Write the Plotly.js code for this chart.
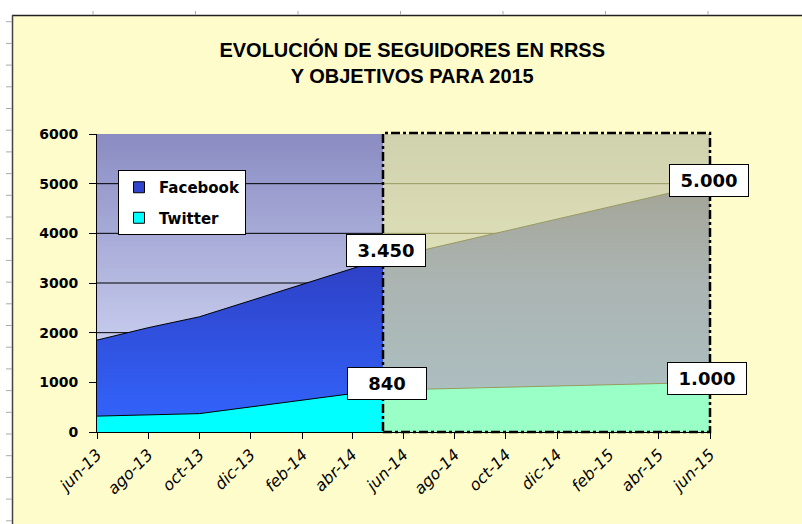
<!DOCTYPE html>
<html>
<head>
<meta charset="utf-8">
<script src="https://cdn.plot.ly/plotly-3.0.1.min.js"></script>
<style>
  body { margin: 0; background: #fff; }
  #plot { width: 802px; height: 524px; }
</style>
</head>
<body>
<div id="plot"></div>
<script>
// Real followers (last reading in may-14)
var realDates = ["2013-06-01", "2013-08-01", "2013-10-01", "2013-12-01", "2014-02-01", "2014-04-01", "2014-05-01"];
var facebookReal = [1850, 2100, 2320, 2650, 2970, 3290, 3450];
var twitterReal = [320, 350, 370, 505, 640, 775, 840];

// Objectives for 2015
var targetDates = ["2014-05-01", "2015-06-01"];
var facebookTarget = [3450, 5000];
var twitterTarget = [840, 1000];

// Axis ticks
var tickDates = ["2013-06-01", "2013-08-01", "2013-10-01", "2013-12-01", "2014-02-01", "2014-04-01",
                 "2014-06-01", "2014-08-01", "2014-10-01", "2014-12-01", "2015-02-01", "2015-04-01", "2015-06-01"];
var tickLabels = ["jun-13", "ago-13", "oct-13", "dic-13", "feb-14", "abr-14",
                  "jun-14", "ago-14", "oct-14", "dic-14", "feb-15", "abr-15", "jun-15"];
var yTicks = [0, 1000, 2000, 3000, 4000, 5000, 6000];

// plot area in pixels: left 97, right 710, top 134, bottom 432
function xp(px) { return (px - 97) / 613; }
function yp(py) { return (432 - py) / 298; }

function hex(c) { return [1, 3, 5].map(i => parseInt(c.substr(i, 2), 16)); }
function mix(a, b, t) {
  var A = hex(a), B = hex(b);
  return "rgb(" + A.map((v, i) => Math.round(v + (B[i] - v) * t)).join(",") + ")";
}
function fmt(v) { return String(v).replace(/\B(?=(\d{3})+(?!\d))/g, "."); }

var yMax = yTicks[yTicks.length - 1];
var shapes = [];

// gradient background, thin overlapping bands
var N = 80;
for (var i = 0; i < N; i++) {
  var t = (i + 0.5) / N;
  shapes.push({type: "rect", layer: "below", xref: "paper", yref: "y",
    x0: 0, x1: 1, y0: yMax * i / N, y1: Math.min(yMax, yMax * (i + 2) / N),
    fillcolor: mix("#E0E7FF", "#8A8CC2", t), line: {width: 0}});
}

// gridlines
yTicks.slice(1, -1).forEach(function (v) {
  shapes.push({type: "line", layer: "below", xref: "paper", yref: "y",
    x0: 0, x1: 1, y0: v, y1: v, line: {color: "#000000", width: 1}});
});

// translucent dash-dot box over the objectives
shapes.push({type: "rect", layer: "above", xref: "paper", yref: "paper",
  x0: xp(383), x1: 1, y0: 0, y1: yp(133),
  fillcolor: "rgba(255,255,160,0.6)",
  line: {color: "#000000", width: 2.5, dash: "dashdot"}});

// spreadsheet frame: white strips, borders and ruler ticks
shapes.push({type: "rect", xref: "paper", yref: "paper", x0: xp(0), x1: xp(802), y0: yp(0), y1: yp(15),
  fillcolor: "#ffffff", line: {width: 0}, layer: "below"});
shapes.push({type: "rect", xref: "paper", yref: "paper", x0: xp(0), x1: xp(12), y0: yp(0), y1: yp(524),
  fillcolor: "#ffffff", line: {width: 0}, layer: "below"});
shapes.push({type: "line", xref: "paper", yref: "paper", x0: xp(12), x1: xp(802), y0: yp(15.5), y1: yp(15.5),
  line: {color: "#222222", width: 1.5}});
shapes.push({type: "line", xref: "paper", yref: "paper", x0: xp(12.5), x1: xp(12.5), y0: yp(15), y1: yp(524),
  line: {color: "#444444", width: 1.5}});
for (var k = 0; k < 7; k++) {
  var rx = 93 + 102.5 * k;
  shapes.push({type: "line", xref: "paper", yref: "paper", x0: xp(rx), x1: xp(rx), y0: yp(11), y1: yp(15),
    line: {color: "#aaaaaa", width: 1}});
}
for (var k = 1; k < 25; k++) {
  var ry = 21.7 * k;
  shapes.push({type: "line", xref: "paper", yref: "paper", x0: xp(6), x1: xp(12), y0: yp(ry), y1: yp(ry),
    line: {color: "#aaaaaa", width: 1}});
}

var fbX = realDates.concat(targetDates.slice(1));
var fbY = facebookReal.concat(facebookTarget.slice(1));
var twX = realDates.concat(targetDates.slice(1));
var twY = twitterReal.concat(twitterTarget.slice(1));

var traces = [
  {
    name: "Facebook", x: fbX, y: fbY, type: "scatter", mode: "lines",
    fill: "tozeroy",
    fillgradient: {type: "vertical", start: 0, stop: Math.max.apply(null, fbY),
                   colorscale: [[0, "#3366FF"], [0.65, "#2E42C8"], [1, "#1A1C86"]]},
    line: {color: "#000000", width: 1}, showlegend: false, hoverinfo: "skip"
  },
  {
    name: "Twitter", x: twX, y: twY, type: "scatter", mode: "lines",
    fill: "tozeroy", fillcolor: "#00FFFF",
    line: {color: "#000000", width: 1}, showlegend: false, hoverinfo: "skip"
  },
  // legend entries with square swatches
  {
    name: "Facebook", x: [null], y: [null], type: "scatter", mode: "markers",
    marker: {symbol: "square", size: 11, color: "#3344CC", line: {color: "#000000", width: 1}},
    legendgroup: "fb"
  },
  {
    name: "Twitter", x: [null], y: [null], type: "scatter", mode: "markers",
    marker: {symbol: "square", size: 11, color: "#00FFFF", line: {color: "#000000", width: 1}},
    legendgroup: "tw"
  }
];

function label(x, y, dx, dy) {
  return {x: x, y: y, xref: "x", yref: "y", text: fmt(y), showarrow: false,
    xshift: dx, yshift: dy, width: 70, height: 23, borderpad: 4,
    bgcolor: "#ffffff", bordercolor: "#000000", borderwidth: 1,
    font: {family: "DejaVu Sans", size: 18, weight: "bold", color: "#000000"}};
}

var annotations = [
  label(realDates[realDates.length - 1], facebookReal[facebookReal.length - 1], 9, 10),
  label(realDates[realDates.length - 1], twitterReal[twitterReal.length - 1], 10, 7),
  label(targetDates[1], facebookTarget[1], -1, 3),
  label(targetDates[1], twitterTarget[1], -3, 4)
];

var layout = {
  width: 802, height: 524,
  margin: {l: 97, r: 92, t: 134, b: 92},
  paper_bgcolor: "#FFFCCC",
  plot_bgcolor: "rgba(0,0,0,0)",
  title: {
    text: "EVOLUCIÓN DE SEGUIDORES EN RRSS<br>Y OBJETIVOS PARA 2015",
    font: {family: "Liberation Sans", size: 20, weight: "bold", color: "#000000"},
    x: 0.514, xanchor: "center", y: 1 - 57 / 524, yanchor: "top"
  },
  xaxis: {
    type: "date", range: [tickDates[0], tickDates[tickDates.length - 1]],
    tickvals: tickDates, ticktext: tickLabels, tickangle: -45,
    ticks: "outside", ticklen: 6, tickcolor: "#000000",
    showgrid: false, zeroline: false, showline: true, linecolor: "#000000", linewidth: 1,
    tickfont: {family: "DejaVu Sans", size: 16, style: "italic", color: "#000000"},
    fixedrange: true
  },
  yaxis: {
    range: [0, yMax], tickvals: yTicks, ticks: "outside", ticklen: 7, tickcolor: "#000000",
    showgrid: false, zeroline: false, showline: true, linecolor: "#000000", linewidth: 1,
    ticklabelstandoff: 8,
    tickfont: {family: "DejaVu Sans", size: 14, weight: "bold", color: "#000000"},
    fixedrange: true
  },
  showlegend: true,
  legend: {
    x: xp(118), y: yp(170), xanchor: "left", yanchor: "top",
    bgcolor: "#ffffff", bordercolor: "#000000", borderwidth: 1,
    tracegroupgap: 8,
    font: {family: "DejaVu Sans", size: 15, weight: "bold", color: "#000000"}
  },
  shapes: shapes,
  annotations: annotations
};

Plotly.newPlot("plot", traces, layout, {displayModeBar: false, staticPlot: true});
</script>
</body>
</html>
